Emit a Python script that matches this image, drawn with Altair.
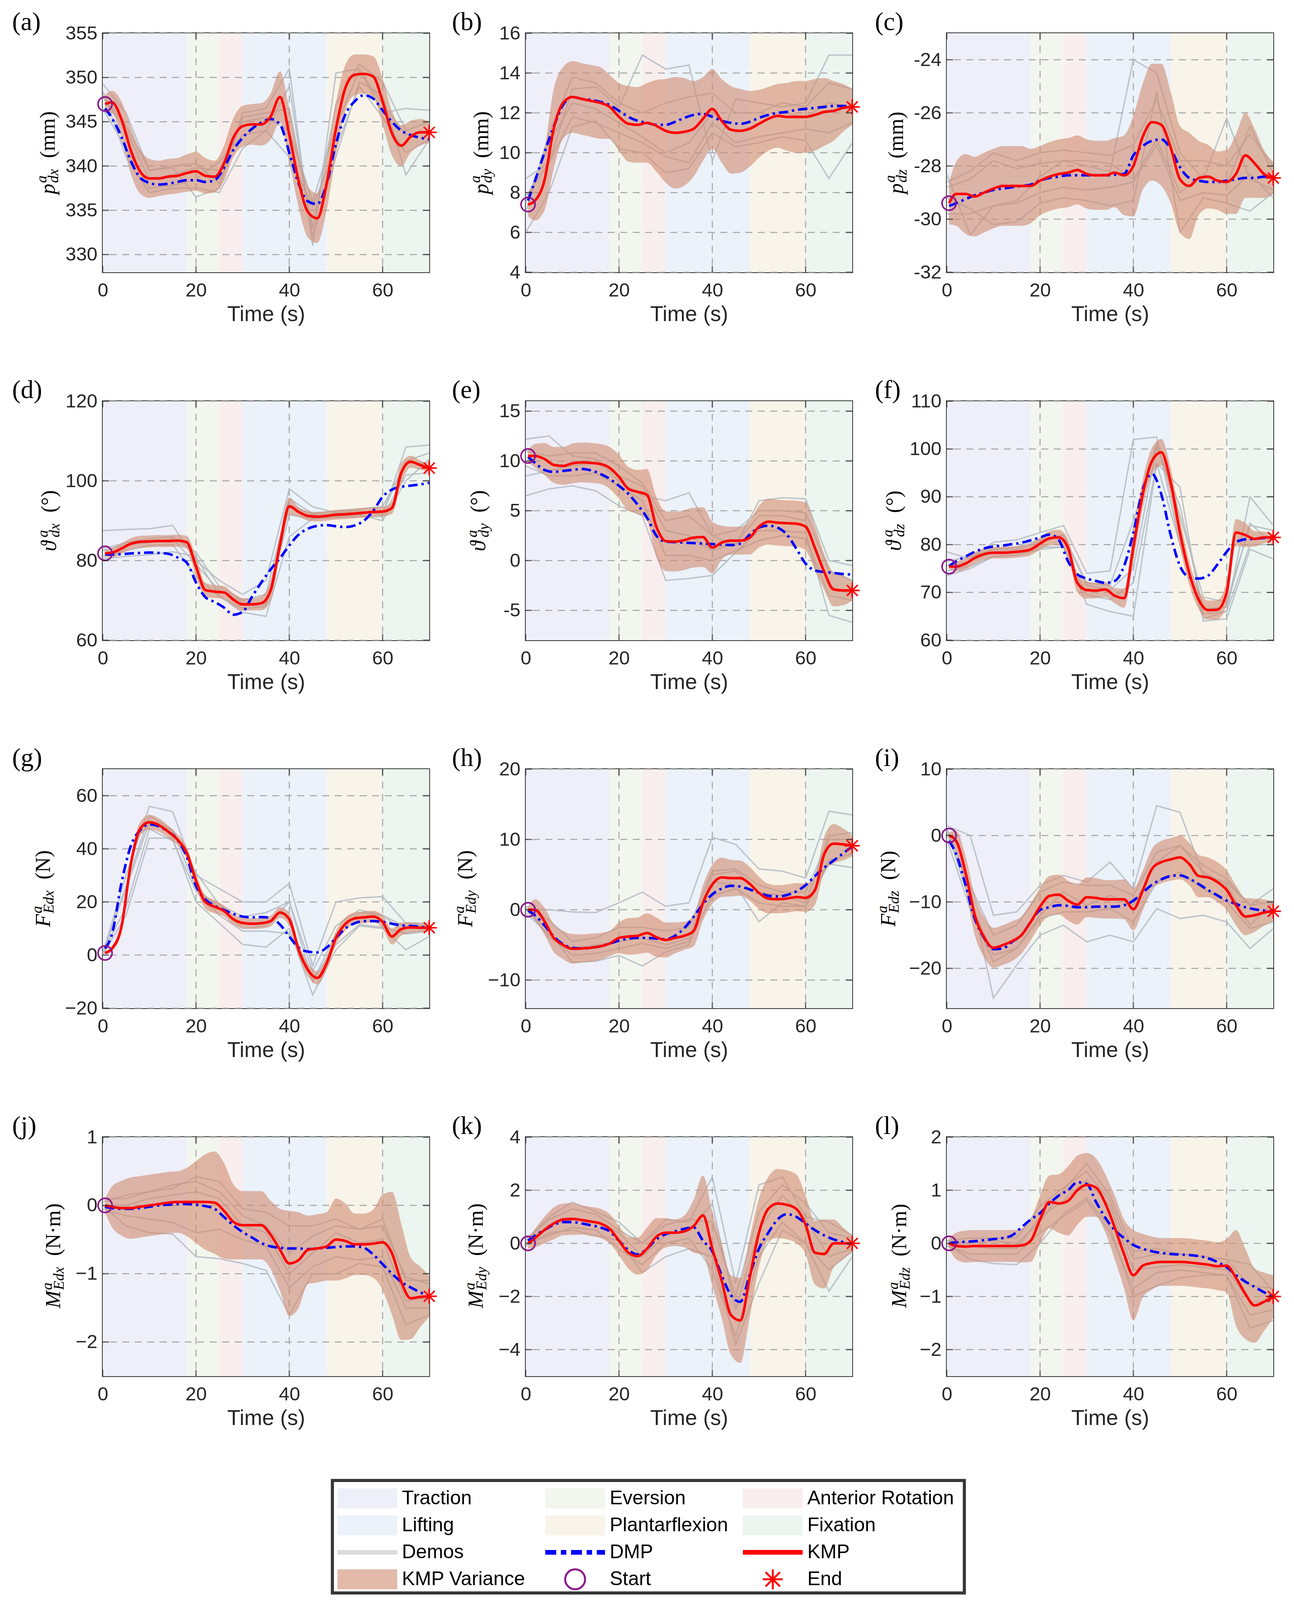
import altair as alt
import pandas as pd

# ---------------- shared axes / phases ----------------
T = [0.5, 2, 4, 6, 8, 10, 12, 14, 16, 18, 20, 22, 24, 26, 28, 30, 32, 34,
     36, 38, 40, 42, 44, 46, 48, 50, 52, 54, 56, 58, 60, 62, 64, 66, 68, 70]
TD = [0, 5, 10, 15, 20, 25, 30, 35, 40, 45, 50, 55, 60, 65, 70]
X_TICKS = [0, 20, 40, 60]
X_GRID = [20, 40, 60]

PHASES = ["Traction", "Eversion", "Anterior Rotation", "Lifting", "Plantarflexion", "Fixation"]
PH_START = [0, 18, 25, 30, 48, 60]
PH_END = [18, 25, 30, 48, 60, 70]
PH_COLORS = ["#eeeff9", "#f2f6ee", "#f9eeee", "#ebf2fa", "#f8f4ea", "#ecf5ef"]

# ---------------- (a) p_dx ----------------
KMP_A = [347.0, 347.2, 345.3, 341.8, 339.4, 338.6, 338.6, 338.8, 338.9, 339.2, 339.4, 338.9, 338.8, 340.3, 343.2, 344.5, 344.7, 344.7, 345.6, 347.8, 343.5, 338.3, 334.8, 334.1, 338.0, 344.2, 348.8, 350.3, 350.4, 350.1, 347.3, 343.7, 342.3, 343.3, 343.8, 343.8]
DMP_A = [346.5, 345.4, 343.3, 340.6, 338.7, 338.1, 337.9, 338.0, 338.2, 338.4, 338.4, 338.2, 338.4, 339.8, 341.8, 343.2, 344.2, 344.9, 345.3, 344.7, 341.5, 338.0, 336.0, 335.7, 338.0, 342.5, 345.8, 347.3, 348.0, 347.6, 346.3, 345.0, 344.0, 343.5, 343.2, 343.0]
VAR_A = [1.0, 1.3, 2.0, 2.6, 2.5, 2.2, 2.0, 2.0, 2.0, 2.1, 2.2, 2.0, 1.8, 2.0, 2.2, 2.3, 2.3, 2.4, 2.6, 2.9, 3.0, 3.0, 2.9, 2.8, 3.0, 3.0, 2.6, 2.3, 2.2, 2.3, 2.6, 2.5, 2.3, 1.8, 1.5, 1.2]
DEMO_A1 = [349.3, 346.0, 339.5, 339.8, 336.5, 337.5, 346.0, 346.5, 351.0, 331.0, 350.5, 351.0, 346.0, 346.5, 346.3]
DEMO_A2 = [348.5, 341.0, 337.0, 337.5, 337.5, 337.0, 342.0, 344.0, 349.0, 332.0, 341.0, 349.5, 348.0, 339.0, 343.0]
DEMO_A3 = [347.8, 344.0, 338.5, 339.0, 339.8, 339.5, 345.0, 345.5, 344.0, 336.0, 344.5, 350.8, 347.0, 343.5, 344.0]
DEMO_A4 = [348.0, 344.5, 339.5, 340.0, 340.3, 338.0, 345.5, 346.0, 346.5, 333.0, 347.0, 351.5, 349.5, 344.0, 345.0]
DEMO_A5 = [346.5, 342.0, 337.5, 337.8, 338.5, 340.5, 343.5, 344.0, 341.0, 335.5, 342.0, 349.0, 345.5, 341.5, 343.0]

# ---------------- (b) p_dy ----------------
KMP_B = [7.4, 7.6, 8.6, 11.2, 12.5, 12.8, 12.7, 12.6, 12.5, 12.3, 11.8, 11.45, 11.4, 11.5, 11.35, 11.1, 11.0, 11.05, 11.2, 11.7, 12.2, 11.6, 11.15, 11.1, 11.2, 11.45, 11.7, 11.85, 11.8, 11.8, 11.8, 11.9, 12.05, 12.1, 12.25, 12.3]
DMP_B = [7.6, 8.6, 10.0, 11.3, 12.4, 12.8, 12.7, 12.65, 12.55, 12.4, 12.1, 11.8, 11.6, 11.5, 11.4, 11.4, 11.55, 11.75, 11.9, 11.95, 11.8, 11.6, 11.5, 11.45, 11.55, 11.75, 11.9, 12.0, 12.05, 12.15, 12.2, 12.25, 12.3, 12.35, 12.35, 12.3]
VAR_B = [0.6, 1.0, 1.5, 2.0, 1.8, 1.8, 1.8, 1.8, 1.8, 1.6, 1.7, 1.9, 1.9, 2.0, 2.3, 2.6, 2.8, 2.7, 2.4, 2.1, 2.0, 2.1, 2.2, 2.1, 1.9, 1.7, 1.6, 1.6, 1.7, 1.8, 1.8, 1.8, 1.7, 1.5, 1.2, 0.9]
DEMO_B1 = [8.7, 9.5, 13.2, 13.3, 12.3, 14.9, 14.2, 14.4, 9.6, 12.7, 12.5, 12.3, 12.5, 14.9, 14.9]
DEMO_B2 = [6.0, 8.0, 11.3, 11.6, 10.2, 10.0, 9.0, 9.2, 11.0, 10.3, 10.5, 10.8, 10.6, 8.7, 10.5]
DEMO_B3 = [7.5, 10.5, 12.5, 12.2, 11.5, 10.8, 10.0, 10.5, 12.0, 11.0, 11.5, 12.0, 11.8, 12.5, 12.3]
DEMO_B4 = [7.0, 11.0, 13.8, 13.5, 12.5, 12.0, 12.5, 12.8, 13.0, 12.0, 12.0, 12.5, 12.3, 13.5, 13.2]
DEMO_B5 = [7.8, 9.5, 11.8, 11.5, 11.0, 10.5, 9.8, 9.5, 11.5, 10.5, 10.8, 11.0, 11.2, 11.0, 11.5]

# ---------------- (c) p_dz ----------------
KMP_C = [-29.4, -29.05, -29.05, -29.15, -29.0, -28.85, -28.75, -28.75, -28.75, -28.75, -28.55, -28.4, -28.3, -28.25, -28.15, -28.3, -28.35, -28.35, -28.25, -28.35, -28.0, -26.9, -26.35, -26.45, -27.3, -28.5, -28.75, -28.45, -28.4, -28.55, -28.6, -28.3, -27.6, -27.9, -28.3, -28.45]
DMP_C = [-29.5, -29.4, -29.25, -29.1, -29.0, -28.9, -28.85, -28.8, -28.75, -28.7, -28.55, -28.45, -28.4, -28.35, -28.35, -28.35, -28.35, -28.35, -28.33, -28.3, -27.6, -27.25, -27.05, -27.0, -27.35, -28.05, -28.45, -28.55, -28.6, -28.6, -28.55, -28.5, -28.45, -28.45, -28.4, -28.4]
VAR_C = [0.8, 1.2, 1.5, 1.5, 1.5, 1.5, 1.5, 1.5, 1.5, 1.4, 1.3, 1.3, 1.3, 1.3, 1.3, 1.3, 1.3, 1.3, 1.3, 1.5, 1.9, 2.0, 2.2, 2.3, 2.1, 2.0, 2.0, 1.4, 1.2, 1.1, 1.2, 1.5, 1.6, 1.3, 0.9, 0.6]
DEMO_C1 = [-28.3, -30.6, -29.5, -29.3, -28.4, -27.8, -28.0, -28.2, -24.0, -24.5, -27.5, -28.5, -26.2, -28.5, -28.9]
DEMO_C2 = [-29.2, -29.6, -30.2, -30.1, -29.4, -29.2, -29.3, -29.5, -29.3, -25.2, -30.5, -29.2, -29.4, -29.7, -29.0]
DEMO_C3 = [-28.8, -28.5, -27.8, -28.1, -27.9, -27.8, -27.8, -27.9, -28.5, -27.0, -29.0, -28.3, -28.7, -26.5, -28.3]
DEMO_C4 = [-28.6, -28.2, -27.5, -27.8, -27.5, -27.4, -27.5, -27.6, -27.2, -25.5, -27.8, -27.8, -28.0, -26.8, -28.0]
DEMO_C5 = [-29.8, -29.8, -29.5, -29.4, -29.0, -28.8, -28.9, -28.8, -28.6, -27.2, -29.3, -29.0, -29.1, -28.3, -29.2]

# ---------------- (d) theta_dx ----------------
KMP_D = [81.8, 82.0, 83.0, 84.2, 84.7, 84.8, 84.9, 84.9, 85.0, 84.6, 78.5, 72.6, 72.2, 72.0, 70.2, 69.0, 69.0, 69.3, 72.5, 84.0, 93.6, 92.2, 91.2, 91.0, 91.2, 91.5, 91.6, 91.8, 92.0, 92.2, 92.3, 93.2, 102.0, 104.8, 104.0, 103.2]
DMP_D = [81.6, 81.5, 81.6, 81.8, 81.9, 82.0, 81.9, 81.7, 80.8, 79.5, 74.5, 70.8, 69.6, 68.2, 66.4, 67.1, 70.9, 74.5, 77.8, 80.6, 83.8, 86.5, 88.0, 88.7, 88.9, 88.6, 88.4, 88.8, 90.0, 92.5, 96.0, 97.8, 98.5, 98.8, 99.1, 99.5]
VAR_D = [0.8, 1.2, 1.3, 1.4, 1.5, 1.5, 1.5, 1.5, 1.5, 1.6, 2.5, 1.8, 1.6, 1.6, 1.6, 1.6, 1.5, 1.8, 2.5, 2.5, 2.2, 1.2, 1.2, 1.2, 1.2, 1.2, 1.2, 1.2, 1.2, 1.2, 1.2, 1.5, 2.5, 1.5, 1.2, 0.8]
DEMO_D1 = [87.5, 87.8, 88.0, 88.8, 80.0, 75.0, 71.5, 75.0, 98.0, 93.5, 92.0, 92.5, 91.5, 108.5, 109.0]
DEMO_D2 = [80.5, 81.0, 81.5, 82.2, 81.0, 71.0, 67.0, 66.0, 86.0, 90.5, 91.0, 91.5, 90.0, 100.0, 105.5]
DEMO_D3 = [82.5, 84.0, 84.5, 85.5, 79.0, 72.5, 69.5, 69.0, 94.0, 91.5, 91.8, 92.0, 92.0, 105.0, 107.0]
DEMO_D4 = [83.0, 84.5, 85.5, 86.0, 82.0, 73.5, 70.0, 71.5, 95.5, 91.8, 92.5, 93.0, 93.5, 104.5, 104.5]
DEMO_D5 = [81.0, 82.5, 83.8, 84.0, 76.0, 71.0, 68.0, 68.5, 91.5, 90.5, 90.8, 91.0, 91.0, 101.5, 102.0]

# ---------------- (e) theta_dy ----------------
KMP_E = [10.5, 10.5, 10.2, 9.6, 9.5, 9.75, 9.85, 9.8, 9.7, 9.3, 8.4, 7.2, 6.9, 6.6, 3.4, 1.95, 1.9, 2.05, 2.3, 2.35, 1.3, 1.8, 2.0, 2.0, 2.3, 3.4, 3.9, 3.8, 3.75, 3.7, 3.4, 1.25, -1.15, -2.9, -3.0, -3.0]
DMP_E = [10.4, 9.8, 9.1, 8.9, 9.0, 9.1, 9.2, 9.05, 8.7, 8.2, 7.5, 6.7, 5.6, 4.3, 2.5, 1.9, 1.85, 1.8, 1.75, 1.7, 1.65, 1.6, 1.55, 1.7, 2.6, 3.3, 3.5, 3.3, 2.6, 1.2, -0.3, -1.0, -1.15, -1.25, -1.35, -1.4]
VAR_E = [0.6, 1.2, 1.6, 1.8, 1.9, 2.0, 2.0, 2.0, 2.0, 2.1, 2.2, 2.2, 2.2, 2.6, 3.0, 3.0, 3.0, 3.0, 3.0, 3.0, 2.6, 1.7, 1.4, 1.4, 1.7, 2.1, 2.3, 2.3, 2.3, 2.3, 2.4, 2.2, 1.8, 1.7, 1.5, 1.0]
DEMO_E1 = [12.2, 12.5, 10.5, 10.2, 8.0, 6.5, 6.0, 6.8, 2.5, 1.5, 6.0, 6.3, 6.2, 0.0, -0.5]
DEMO_E2 = [6.5, 7.2, 7.5, 7.0, 5.5, 4.5, -2.0, -1.8, -1.5, 0.8, 3.0, 3.0, 2.8, -5.5, -6.2]
DEMO_E3 = [8.5, 9.0, 9.5, 9.8, 8.5, 7.5, 3.0, 2.5, 1.0, 1.8, 4.5, 4.5, 4.0, -2.5, -3.5]
DEMO_E4 = [11.0, 10.5, 10.8, 10.8, 9.5, 7.8, 4.0, 4.5, 2.5, 3.0, 5.0, 5.0, 4.8, -1.0, -2.0]
DEMO_E5 = [9.5, 8.5, 8.5, 8.8, 7.5, 6.0, 0.5, 0.5, 0.0, 1.0, 2.0, 2.5, 2.2, -3.5, -4.0]

# ---------------- (f) theta_dz ----------------
KMP_F = [75.4, 75.4, 76.0, 77.2, 78.0, 78.3, 78.3, 78.4, 78.6, 79.0, 80.2, 81.3, 81.5, 79.3, 72.0, 70.5, 70.4, 70.6, 69.3, 68.8, 79.5, 90.5, 97.5, 99.3, 93.0, 82.5, 74.0, 68.5, 66.3, 66.4, 70.0, 82.5, 82.0, 81.2, 81.5, 81.5]
DMP_F = [75.5, 76.5, 77.5, 78.5, 79.2, 79.6, 79.8, 80.1, 80.4, 80.9, 81.5, 82.1, 81.0, 76.5, 73.8, 72.9, 72.4, 72.0, 72.4, 75.5, 82.5, 91.5, 94.8, 90.5, 82.0, 75.5, 73.2, 72.9, 73.5, 75.8, 78.5, 80.5, 81.1, 81.2, 81.4, 81.5]
VAR_F = [0.5, 1.0, 1.2, 1.2, 1.2, 1.2, 1.2, 1.2, 1.2, 1.2, 1.3, 1.5, 1.6, 1.8, 2.0, 1.8, 1.6, 1.6, 1.6, 2.0, 3.0, 3.0, 2.8, 2.8, 3.0, 3.0, 2.5, 2.0, 2.0, 2.0, 2.5, 2.8, 2.5, 1.6, 1.2, 0.8]
DEMO_F1 = [78.5, 77.0, 80.5, 81.0, 82.5, 84.0, 74.0, 74.5, 102.0, 102.5, 80.0, 64.5, 66.0, 90.0, 84.0]
DEMO_F2 = [73.5, 75.0, 77.5, 77.8, 79.0, 79.5, 67.5, 66.0, 65.0, 97.0, 92.0, 64.0, 64.5, 79.0, 77.0]
DEMO_F3 = [75.5, 76.5, 78.5, 79.0, 80.5, 82.0, 71.5, 70.5, 75.0, 100.5, 88.0, 66.5, 67.0, 84.5, 80.0]
DEMO_F4 = [76.5, 77.5, 79.0, 79.5, 81.0, 82.0, 72.0, 71.5, 85.0, 101.0, 86.0, 69.0, 68.0, 84.0, 83.0]
DEMO_F5 = [74.5, 75.5, 77.5, 77.8, 79.5, 79.5, 69.5, 68.5, 72.0, 97.0, 80.0, 65.5, 66.0, 80.0, 80.0]

# ---------------- (g) F_Edx ----------------
KMP_G = [0.8, 2.5, 10.5, 34.0, 47.5, 50.0, 49.0, 46.5, 43.5, 38.5, 28.0, 20.0, 18.2, 16.6, 13.5, 12.1, 11.8, 12.0, 12.8, 16.0, 13.5, 2.0, -5.6, -8.6, -3.1, 6.5, 11.7, 13.8, 14.2, 14.5, 12.5, 7.0, 9.8, 10.4, 10.3, 10.3]
DMP_G = [2.5, 8.0, 27.0, 41.0, 47.0, 49.2, 48.5, 46.5, 43.5, 37.0, 26.0, 21.0, 18.5, 17.0, 15.5, 14.5, 14.2, 14.3, 14.0, 11.5, 7.0, 2.8, 1.3, 1.0, 2.8, 6.5, 10.0, 12.0, 12.8, 12.8, 12.5, 11.8, 11.2, 11.0, 10.7, 10.3]
VAR_G = [0.5, 1.0, 2.0, 2.5, 2.5, 2.8, 2.5, 2.3, 2.0, 2.2, 2.5, 2.5, 2.5, 2.0, 2.0, 2.0, 2.0, 2.0, 2.0, 2.0, 2.5, 2.5, 2.5, 2.5, 2.5, 2.5, 2.5, 2.2, 2.2, 2.2, 2.5, 3.0, 2.5, 2.0, 1.6, 1.2]
DEMO_G1 = [0.5, 30.0, 56.0, 54.0, 30.0, 25.0, 20.0, 20.0, 27.0, -4.0, 20.0, 21.5, 22.0, 12.0, 12.0]
DEMO_G2 = [0.0, 15.0, 44.0, 44.0, 20.0, 12.0, 4.0, 3.0, 10.0, -15.0, 2.0, 11.0, 10.0, 2.0, 7.0]
DEMO_G3 = [1.0, 25.0, 50.0, 47.0, 25.0, 18.0, 10.0, 11.0, 20.0, -10.0, 8.0, 16.0, 15.0, 8.0, 9.0]
DEMO_G4 = [0.5, 26.0, 52.5, 47.0, 31.0, 19.0, 14.5, 16.0, 20.0, -6.0, 11.0, 17.0, 15.0, 10.5, 11.0]
DEMO_G5 = [1.0, 18.0, 47.5, 43.0, 24.0, 15.0, 9.0, 9.0, 8.0, -9.5, 4.0, 11.5, 10.5, 8.0, 9.5]

# ---------------- (h) F_Edy ----------------
KMP_H = [0.0, 0.0, -1.6, -4.0, -5.0, -5.55, -5.5, -5.4, -5.2, -4.8, -4.0, -3.8, -3.7, -3.3, -3.9, -4.3, -4.0, -3.7, -3.0, 1.0, 3.6, 4.6, 4.5, 4.5, 3.7, 2.4, 1.6, 1.5, 1.6, 1.8, 1.7, 2.8, 7.9, 9.4, 9.3, 9.1]
DMP_H = [-0.1, -0.8, -2.2, -3.8, -4.9, -5.4, -5.5, -5.4, -5.2, -4.8, -4.4, -4.1, -4.0, -4.0, -4.1, -4.2, -3.7, -2.6, -1.0, 0.8, 2.2, 3.0, 3.4, 3.3, 2.9, 2.4, 2.0, 1.9, 2.1, 2.6, 3.5, 4.8, 6.0, 7.0, 8.0, 9.0]
VAR_H = [0.5, 1.5, 1.9, 2.0, 2.0, 2.1, 2.0, 2.0, 1.9, 1.8, 2.2, 2.6, 2.6, 2.8, 2.8, 2.5, 2.2, 2.0, 2.2, 2.5, 2.8, 2.8, 2.6, 2.5, 2.4, 2.3, 2.1, 2.0, 2.0, 2.0, 2.0, 2.1, 2.5, 2.8, 2.3, 1.5]
DEMO_H1 = [0.0, 0.0, -0.3, -0.4, 1.0, 2.5, 0.5, 1.0, 10.3, 9.3, 5.8, 5.5, 4.5, 14.0, 13.5]
DEMO_H2 = [0.0, -3.0, -7.5, -7.3, -6.5, -8.0, -6.0, -5.0, 4.0, 3.5, -1.7, 1.0, 0.5, 6.5, 6.0]
DEMO_H3 = [0.3, -4.0, -5.5, -5.0, -4.5, -4.0, -5.0, -4.0, 5.0, 5.5, 2.5, 2.0, 1.0, 10.5, 11.0]
DEMO_H4 = [0.5, -1.5, -4.5, -4.0, -2.5, -2.5, -3.0, -2.5, 5.5, 5.8, 3.5, 2.5, 2.5, 10.0, 10.0]
DEMO_H5 = [-0.5, -3.5, -6.5, -6.2, -5.5, -4.8, -5.5, -4.5, 2.0, 3.0, 1.0, 0.5, 0.5, 7.0, 8.0]

# ---------------- (i) F_Edz ----------------
KMP_I = [0.0, -0.8, -5.5, -12.0, -15.3, -16.9, -16.5, -15.9, -15.0, -13.0, -10.7, -9.1, -8.9, -9.8, -10.4, -9.3, -9.4, -9.6, -9.6, -9.6, -11.1, -8.3, -5.0, -4.0, -3.6, -3.3, -4.3, -6.1, -6.3, -7.0, -8.2, -10.5, -12.2, -12.0, -11.6, -11.4]
DMP_I = [-0.8, -2.8, -7.4, -12.5, -15.4, -17.1, -17.0, -16.0, -15.0, -13.0, -11.2, -10.8, -10.5, -10.6, -10.8, -10.8, -10.7, -10.7, -10.7, -10.5, -9.8, -8.6, -7.4, -6.6, -6.1, -6.0, -6.5, -7.3, -8.2, -9.0, -9.8, -10.3, -10.8, -11.1, -11.3, -11.4]
VAR_I = [0.5, 1.5, 2.5, 3.0, 3.0, 3.0, 3.0, 3.0, 2.8, 2.8, 2.8, 3.0, 3.0, 3.0, 3.0, 3.0, 3.0, 2.9, 2.9, 3.0, 3.2, 3.0, 3.0, 3.2, 3.2, 3.3, 3.2, 3.2, 3.0, 3.0, 3.0, 3.0, 2.8, 2.5, 2.0, 1.5]
DEMO_I1 = [1.5, 0.0, -12.0, -11.5, -7.5, -6.0, -7.0, -4.0, -8.0, 4.5, 3.5, -6.0, -7.0, -10.5, -8.0]
DEMO_I2 = [0.5, -8.0, -24.5, -19.5, -15.0, -13.5, -16.0, -15.0, -16.0, -11.0, -12.5, -12.0, -13.0, -17.0, -14.0]
DEMO_I3 = [0.8, -10.0, -18.0, -17.0, -12.0, -8.5, -10.5, -9.0, -10.5, -4.0, -1.5, -5.5, -7.5, -13.5, -10.0]
DEMO_I4 = [1.0, -7.5, -15.0, -13.5, -8.5, -7.0, -7.5, -7.5, -9.0, -2.5, -1.5, -4.5, -6.5, -10.5, -10.0]
DEMO_I5 = [-0.5, -11.0, -19.0, -17.0, -12.5, -11.5, -11.5, -11.0, -13.0, -7.0, -5.5, -8.0, -10.0, -14.0, -13.0]

# ---------------- (j) M_Edx ----------------
KMP_J = [0.0, -0.02, -0.04, -0.04, -0.02, 0.0, 0.02, 0.04, 0.05, 0.05, 0.05, 0.05, 0.04, -0.08, -0.24, -0.29, -0.29, -0.29, -0.43, -0.65, -0.85, -0.8, -0.65, -0.63, -0.6, -0.5, -0.52, -0.57, -0.57, -0.56, -0.54, -0.7, -1.12, -1.36, -1.34, -1.33]
DMP_J = [-0.02, -0.04, -0.05, -0.05, -0.04, -0.02, 0.0, 0.01, 0.02, 0.02, 0.01, -0.01, -0.05, -0.17, -0.29, -0.39, -0.47, -0.55, -0.6, -0.62, -0.63, -0.63, -0.64, -0.63, -0.62, -0.61, -0.6, -0.6, -0.62, -0.72, -0.86, -1.0, -1.12, -1.2, -1.27, -1.33]
VAR_J = [0.1, 0.3, 0.4, 0.45, 0.45, 0.45, 0.45, 0.45, 0.45, 0.5, 0.6, 0.7, 0.75, 0.7, 0.55, 0.5, 0.5, 0.5, 0.5, 0.6, 0.77, 0.7, 0.5, 0.5, 0.5, 0.6, 0.55, 0.45, 0.45, 0.5, 0.7, 0.9, 0.85, 0.6, 0.45, 0.3]
DEMO_J1 = [0.05, 0.15, 0.2, 0.25, 0.42, 0.35, -0.05, -0.1, -0.3, -0.3, -0.2, -0.35, -0.2, -1.1, -1.1]
DEMO_J2 = [0.0, -0.3, -0.4, -0.42, -0.75, -0.78, -0.85, -0.95, -1.6, -1.0, -1.0, -0.85, -0.9, -1.75, -1.6]
DEMO_J3 = [0.0, 0.0, 0.1, 0.15, 0.2, 0.1, -0.3, -0.4, -1.0, -0.7, -0.4, -0.55, -0.5, -1.4, -1.35]
DEMO_J4 = [0.1, 0.1, 0.2, 0.3, 0.35, 0.2, -0.15, -0.3, -0.7, -0.45, -0.3, -0.35, -0.3, -1.05, -1.15]
DEMO_J5 = [-0.05, -0.15, -0.2, -0.25, -0.4, -0.35, -0.5, -0.6, -1.2, -0.9, -0.75, -0.8, -0.75, -1.5, -1.5]

# ---------------- (k) M_Edy ----------------
KMP_K = [0.0, 0.2, 0.5, 0.75, 0.9, 0.92, 0.88, 0.82, 0.75, 0.55, 0.1, -0.35, -0.48, -0.2, 0.25, 0.4, 0.4, 0.45, 0.65, 1.05, -0.2, -1.4, -2.7, -2.9, -1.3, 0.4, 1.3, 1.5, 1.45, 1.3, 0.7, -0.35, -0.4, 0.0, 0.0, 0.0]
DMP_K = [0.1, 0.3, 0.5, 0.7, 0.8, 0.8, 0.75, 0.68, 0.6, 0.45, 0.1, -0.25, -0.42, -0.2, 0.15, 0.35, 0.45, 0.55, 0.6, 0.1, -0.3, -1.2, -1.95, -2.2, -1.2, -0.2, 0.4, 0.9, 1.1, 1.0, 0.75, 0.5, 0.3, 0.15, 0.05, -0.05]
VAR_K = [0.2, 0.35, 0.5, 0.6, 0.6, 0.6, 0.55, 0.55, 0.55, 0.55, 0.55, 0.6, 0.7, 0.8, 0.7, 0.55, 0.5, 0.6, 1.0, 1.5, 1.4, 1.4, 1.5, 1.6, 1.5, 1.3, 1.2, 1.3, 1.3, 1.3, 1.1, 1.2, 1.3, 0.9, 0.6, 0.3]
DEMO_K1 = [0.1, 1.0, 1.55, 1.2, 0.8, 0.0, 0.9, 0.8, 2.5, -1.5, 2.2, 2.5, 1.0, 0.8, 0.3]
DEMO_K2 = [-0.1, 0.4, 0.5, 0.3, 0.1, -1.1, -0.5, -0.2, -0.5, -3.8, -1.5, 0.5, 0.0, -1.8, -0.5]
DEMO_K3 = [0.0, 0.7, 0.9, 0.8, 0.4, -0.5, 0.3, 0.5, 1.5, -2.5, 0.5, 1.8, 0.9, -0.5, -0.2]
DEMO_K4 = [0.15, 0.9, 1.3, 1.1, 0.5, 0.0, 0.7, 0.9, 0.8, -2.0, 1.2, 2.2, 1.5, 0.4, 0.2]
DEMO_K5 = [-0.05, 0.3, 0.6, 0.5, -0.2, -0.8, 0.0, 0.2, -1.0, -3.5, -0.5, 0.8, 0.0, -1.0, -0.3]

# ---------------- (l) M_Edz ----------------
KMP_L = [0.0, -0.05, -0.06, -0.05, -0.05, -0.05, -0.05, -0.05, -0.04, 0.05, 0.45, 0.78, 0.75, 0.8, 1.0, 1.1, 1.05, 0.75, 0.3, -0.2, -0.6, -0.42, -0.37, -0.35, -0.35, -0.35, -0.36, -0.38, -0.4, -0.43, -0.42, -0.65, -0.95, -1.17, -1.1, -1.0]
DMP_L = [0.0, 0.02, 0.03, 0.04, 0.06, 0.08, 0.1, 0.15, 0.3, 0.45, 0.57, 0.75, 0.9, 1.0, 1.15, 1.12, 0.78, 0.48, 0.25, 0.1, -0.03, -0.1, -0.15, -0.18, -0.2, -0.21, -0.22, -0.24, -0.28, -0.35, -0.45, -0.6, -0.72, -0.82, -0.92, -1.0]
VAR_L = [0.1, 0.25, 0.3, 0.3, 0.3, 0.3, 0.3, 0.3, 0.32, 0.4, 0.45, 0.5, 0.55, 0.65, 0.65, 0.6, 0.55, 0.55, 0.6, 0.65, 0.85, 0.6, 0.5, 0.45, 0.45, 0.45, 0.45, 0.45, 0.45, 0.45, 0.5, 0.9, 0.85, 0.7, 0.55, 0.4]
DEMO_L1 = [0.05, 0.0, 0.05, 0.0, 0.4, 1.0, 1.5, 0.9, -0.15, -0.1, -0.2, -0.25, -0.3, -0.4, -0.9]
DEMO_L2 = [0.0, -0.3, -0.38, -0.4, 0.0, 0.55, 0.85, 0.3, -1.0, -0.8, -0.65, -0.6, -0.6, -1.6, -1.45]
DEMO_L3 = [0.0, -0.05, -0.1, -0.1, 0.5, 0.8, 1.2, 0.7, -0.5, -0.45, -0.4, -0.45, -0.5, -1.1, -1.1]
DEMO_L4 = [0.05, 0.1, 0.1, 0.1, 0.7, 1.05, 1.35, 0.8, -0.3, -0.2, -0.2, -0.25, -0.3, -0.8, -0.85]
DEMO_L5 = [-0.05, -0.2, -0.2, -0.2, 0.2, 0.5, 0.8, 0.2, -0.85, -0.55, -0.5, -0.55, -0.6, -1.35, -1.25]

# ---------------- panel meta ----------------
PANELS = [
    dict(tag="(a)", k=KMP_A, d=DMP_A, w=VAR_A, demos=[DEMO_A1, DEMO_A2, DEMO_A3, DEMO_A4, DEMO_A5], dom=[328, 355], ticks=[330, 335, 340, 345, 350, 355], hy=False, sym=("p", "a", "dx", "(mm)"), toff=-139),
    dict(tag="(b)", k=KMP_B, d=DMP_B, w=VAR_B, demos=[DEMO_B1, DEMO_B2, DEMO_B3, DEMO_B4, DEMO_B5], dom=[4, 16], ticks=[4, 6, 8, 10, 12, 14, 16], hy=True, sym=("p", "a", "dy", "(mm)"), toff=-112),
    dict(tag="(c)", k=KMP_C, d=DMP_C, w=VAR_C, demos=[DEMO_C1, DEMO_C2, DEMO_C3, DEMO_C4, DEMO_C5], dom=[-32, -23], ticks=[-32, -30, -28, -26, -24], hy=True, sym=("p", "a", "dz", "(mm)"), toff=-128),
    dict(tag="(d)", k=KMP_D, d=DMP_D, w=VAR_D, demos=[DEMO_D1, DEMO_D2, DEMO_D3, DEMO_D4, DEMO_D5], dom=[60, 120], ticks=[60, 80, 100, 120], hy=False, sym=("\u03d1", "a", "dx", "(\u00b0)"), toff=-136),
    dict(tag="(e)", k=KMP_E, d=DMP_E, w=VAR_E, demos=[DEMO_E1, DEMO_E2, DEMO_E3, DEMO_E4, DEMO_E5], dom=[-8, 16], ticks=[-5, 0, 5, 10, 15], hy=True, sym=("\u03d1", "a", "dy", "(\u00b0)"), toff=-120),
    dict(tag="(f)", k=KMP_F, d=DMP_F, w=VAR_F, demos=[DEMO_F1, DEMO_F2, DEMO_F3, DEMO_F4, DEMO_F5], dom=[60, 110], ticks=[60, 70, 80, 90, 100, 110], hy=False, sym=("\u03d1", "a", "dz", "(\u00b0)"), toff=-134),
    dict(tag="(g)", k=KMP_G, d=DMP_G, w=VAR_G, demos=[DEMO_G1, DEMO_G2, DEMO_G3, DEMO_G4, DEMO_G5], dom=[-20, 70], ticks=[-20, 0, 20, 40, 60], hy=False, sym=("F", "a", "Edx", "(N)"), toff=-151),
    dict(tag="(h)", k=KMP_H, d=DMP_H, w=VAR_H, demos=[DEMO_H1, DEMO_H2, DEMO_H3, DEMO_H4, DEMO_H5], dom=[-14, 20], ticks=[-10, 0, 10, 20], hy=False, sym=("F", "a", "Edy", "(N)"), toff=-153),
    dict(tag="(i)", k=KMP_I, d=DMP_I, w=VAR_I, demos=[DEMO_I1, DEMO_I2, DEMO_I3, DEMO_I4, DEMO_I5], dom=[-26, 10], ticks=[-20, -10, 0, 10], hy=False, sym=("F", "a", "Edz", "(N)"), toff=-148),
    dict(tag="(j)", k=KMP_J, d=DMP_J, w=VAR_J, demos=[DEMO_J1, DEMO_J2, DEMO_J3, DEMO_J4, DEMO_J5], dom=[-2.5, 1], ticks=[-2, -1, 0, 1], hy=False, sym=("M", "a", "Edx", "(N\u00b7m)"), toff=-125),
    dict(tag="(k)", k=KMP_K, d=DMP_K, w=VAR_K, demos=[DEMO_K1, DEMO_K2, DEMO_K3, DEMO_K4, DEMO_K5], dom=[-5, 4], ticks=[-4, -2, 0, 2, 4], hy=False, sym=("M", "a", "Edy", "(N\u00b7m)"), toff=-126),
    dict(tag="(l)", k=KMP_L, d=DMP_L, w=VAR_L, demos=[DEMO_L1, DEMO_L2, DEMO_L3, DEMO_L4, DEMO_L5], dom=[-2.5, 2], ticks=[-2, -1, 0, 1, 2], hy=False, sym=("M", "a", "Edz", "(N\u00b7m)"), toff=-120),
]
LABEL_X = [-232, -189, -184]

# ---------------- style ----------------
W_PLOT, H_PLOT = 836, 612
SANS = "Liberation Sans, Arial, Helvetica, sans-serif"
SERIF = "Liberation Serif, DejaVu Serif, Times New Roman, serif"
TXT = "#262626"
GRID = "#a3a3a3"
DEMO_C = "#b3bbc3"
BAND = "#d08a70"
BAND_OP = 0.6
RED = "#ff0000"
BLUE = "#0000ff"
PURPLE = "#8a148a"
STAR = "M0,-1L0,1M-1,0L1,0M-0.72,-0.72L0.72,0.72M-0.72,0.72L0.72,-0.72"
ONE = pd.DataFrame({"k": [0]})
TICK_LEN = 16

IT_EM = {"p": 0.5, "a": 0.5, "d": 0.5, "x": 0.444, "y": 0.444, "z": 0.389,
         "E": 0.611, "F": 0.611, "M": 0.833, "\u03d1": 0.62}
UP_EM = {"(": 0.333, ")": 0.333, "m": 0.778, "N": 0.722, "\u00b0": 0.4, "\u00b7": 0.25}


def em(s, tab):
    return sum(tab.get(c, 0.5) for c in s)


def text_layer(txt, x, y, size, italic=False, angle=0, align="left", baseline="middle"):
    kw = dict(font=SERIF, fontSize=size, align=align, baseline=baseline, color="black")
    if italic:
        kw["fontStyle"] = "italic"
    if angle:
        kw["angle"] = angle
    return alt.Chart(ONE).mark_text(**kw).encode(
        x=alt.value(x), y=alt.value(y), text=alt.value(txt))


def make_panel(idx, p):
    K, D, Wv = p["k"], p["d"], p["w"]
    main = pd.DataFrame({"t": T, "kmp": K, "dmp": D,
                         "lo": [a - b for a, b in zip(K, Wv)],
                         "hi": [a + b for a, b in zip(K, Wv)]})
    nd = len(p["demos"])
    demo = pd.DataFrame({"t": TD * nd,
                         "v": [v for dm in p["demos"] for v in dm],
                         "demo": [i for i in range(nd) for _ in TD]})
    phase = pd.DataFrame({"name": PHASES, "s": PH_START, "e": PH_END})
    yt = pd.DataFrame({"v": p["ticks"]})
    xt = pd.DataFrame({"v": X_TICKS})

    xs = alt.Scale(domain=[0, 70], nice=False, zero=False)
    ys = alt.Scale(domain=p["dom"], nice=False, zero=False)
    common = dict(grid=False, ticks=False, domain=False, labelFlush=False,
                  labelFontSize=49, labelColor=TXT, labelFont=SANS)
    xaxis = alt.Axis(values=X_TICKS, title="Time (s)", labelPadding=22, titlePadding=10,
                     titleFontSize=55, titleFont=SANS, titleColor=TXT,
                     titleFontWeight="normal", **common)
    yargs = dict(values=p["ticks"], title="", labelPadding=14, **common)
    if p["hy"]:
        yargs["labelExpr"] = "replace(datum.label, '\u2212', '-')"
    yaxis = alt.Axis(**yargs)

    def X(f):
        return alt.X(f, scale=xs, axis=xaxis)

    def Y(f):
        return alt.Y(f, scale=ys, axis=yaxis)

    layers = []
    layers.append(alt.Chart(phase).mark_rect().encode(
        x=X("s:Q"), x2="e:Q",
        color=alt.Color("name:N", scale=alt.Scale(domain=PHASES, range=PH_COLORS), legend=None)))
    layers.append(alt.Chart(yt).mark_rule(
        color=GRID, strokeWidth=2.5, strokeDash=[18, 14]).encode(y=Y("v:Q")))
    layers.append(alt.Chart(pd.DataFrame({"v": X_GRID})).mark_rule(
        color=GRID, strokeWidth=2.5, strokeDash=[18, 14]).encode(x=X("v:Q")))
    layers.append(alt.Chart(demo).mark_line(color=DEMO_C, strokeWidth=3.5, opacity=0.85).encode(
        x=X("t:Q"), y=Y("v:Q"), detail="demo:N"))
    layers.append(alt.Chart(main).mark_area(color=BAND, opacity=BAND_OP, interpolate="monotone").encode(
        x=X("t:Q"), y=Y("lo:Q"), y2="hi:Q"))
    layers.append(alt.Chart(main).mark_line(color=BLUE, strokeWidth=6.5, strokeDash=[24, 10, 6, 10],
                                            interpolate="monotone").encode(x=X("t:Q"), y=Y("dmp:Q")))
    layers.append(alt.Chart(main).mark_line(color=RED, strokeWidth=6.5, interpolate="monotone").encode(
        x=X("t:Q"), y=Y("kmp:Q")))
    layers.append(alt.Chart(main.iloc[[0]]).mark_point(shape="circle", filled=False, color=PURPLE,
                                                       size=1300, strokeWidth=4, opacity=1).encode(
        x=X("t:Q"), y=Y("kmp:Q")))
    layers.append(alt.Chart(main.iloc[[-1]]).mark_point(shape=STAR, filled=False, color=RED,
                                                        size=1500, strokeWidth=4, opacity=1).encode(
        x=X("t:Q"), y=Y("kmp:Q")))

    # inward box ticks (left/right at y ticks, top/bottom at x ticks)
    for xv in (TICK_LEN / 2, W_PLOT - TICK_LEN / 2):
        layers.append(alt.Chart(yt).mark_tick(color="#262626", thickness=3, size=TICK_LEN,
                                              orient="horizontal").encode(
            y=Y("v:Q"), x=alt.value(xv)))
    for yv in (TICK_LEN / 2, H_PLOT - TICK_LEN / 2):
        layers.append(alt.Chart(xt).mark_tick(color="#262626", thickness=3, size=TICK_LEN,
                                              orient="vertical").encode(
            x=X("v:Q"), y=alt.value(yv)))

    # panel tag
    layers.append(text_layer(p["tag"], LABEL_X[idx % 3], -8, 66, baseline="alphabetic"))

    # composite y title  (rotated, reading upwards)
    mainc, sup, sub, unit = p["sym"]
    S, s, U = 54, 38, 54
    w_main = em(mainc, IT_EM) * S
    w_scr = max(em(sup, IT_EM), em(sub, IT_EM)) * s
    gap = 0.55 * U
    w_unit = em(unit, UP_EM) * U
    total = w_main + w_scr + gap + w_unit
    x0 = p["toff"]
    bottom = H_PLOT / 2 + total / 2
    layers.append(text_layer(mainc, x0, bottom, S, italic=True, angle=270))
    layers.append(text_layer(sup, x0 - 0.3 * S, bottom - w_main - 2, s, italic=True, angle=270))
    layers.append(text_layer(sub, x0 + 0.25 * S, bottom - w_main - 2, s, italic=True, angle=270))
    layers.append(text_layer(unit, x0, bottom - w_main - w_scr - gap, U, angle=270))

    return alt.layer(*layers).properties(
        width=W_PLOT, height=H_PLOT,
        view=alt.ViewBackground(stroke="#333333", strokeWidth=4))


panels = [make_panel(i, p) for i, p in enumerate(PANELS)]
rows = [alt.hconcat(*panels[r * 3:(r + 1) * 3], spacing=26) for r in range(4)]
grid = alt.vconcat(*rows, spacing=130)

# ---------------- legend ----------------
LEG_LABELS = ["Traction", "Eversion", "Anterior Rotation",
              "Lifting", "Plantarflexion", "Fixation",
              "Demos", "DMP", "KMP",
              "KMP Variance", "Start", "End"]
SW_X = [601, 1133, 1639]
SW_W = 153
TX_GAP = 165
ROW_Y = [52, 121, 190, 259]
SW_H = 51

txt_df = pd.DataFrame({
    "label": LEG_LABELS,
    "x": [SW_X[i % 3] + TX_GAP for i in range(12)],
    "y": [ROW_Y[i // 3] for i in range(12)],
})
sw_idx = [0, 1, 2, 3, 4, 5, 9]
sw_df = pd.DataFrame({
    "x1": [SW_X[i % 3] for i in sw_idx],
    "x2": [SW_X[i % 3] + SW_W for i in sw_idx],
    "y1": [ROW_Y[i // 3] - SW_H / 2 for i in sw_idx],
    "y2": [ROW_Y[i // 3] + SW_H / 2 for i in sw_idx],
    "color": PH_COLORS + [BAND],
    "op": [1, 1, 1, 1, 1, 1, BAND_OP],
})


def leg_line(col, color, width, dash=None):
    df = pd.DataFrame({"x1": [SW_X[col]], "x2": [SW_X[col] + SW_W], "y": [ROW_Y[2]]})
    kw = dict(color=color, strokeWidth=width)
    if dash:
        kw["strokeDash"] = dash
    return alt.Chart(df).mark_rule(**kw).encode(
        x=alt.X("x1:Q", scale=None, axis=None), x2="x2:Q",
        y=alt.Y("y:Q", scale=None, axis=None))


def leg_marker(col, shape, color):
    df = pd.DataFrame({"x": [SW_X[col] + SW_W / 2], "y": [ROW_Y[3]]})
    return alt.Chart(df).mark_point(shape=shape, filled=False, color=color, size=2600,
                                    strokeWidth=5, opacity=1).encode(
        x=alt.X("x:Q", scale=None, axis=None), y=alt.Y("y:Q", scale=None, axis=None))


legend = alt.layer(
    alt.Chart(ONE).mark_rect(fill="white", stroke="#383838", strokeWidth=8).encode(
        x=alt.value(588), x2=alt.value(2206), y=alt.value(6), y2=alt.value(294)),
    alt.Chart(sw_df).mark_rect().encode(
        x=alt.X("x1:Q", scale=None, axis=None), x2="x2:Q",
        y=alt.Y("y1:Q", scale=None, axis=None), y2="y2:Q",
        color=alt.Color("color:N", scale=None),
        opacity=alt.Opacity("op:Q", scale=None)),
    leg_line(0, "#dcdcdc", 12),
    leg_line(1, BLUE, 12, [28, 12, 14, 12]),
    leg_line(2, RED, 12),
    leg_marker(1, "circle", PURPLE),
    leg_marker(2, STAR, RED),
    alt.Chart(txt_df).mark_text(font=SANS, fontSize=50, align="left", baseline="middle",
                                color="black").encode(
        x=alt.X("x:Q", scale=None, axis=None), y=alt.Y("y:Q", scale=None, axis=None),
        text="label:N"),
).properties(width=2300, height=300, view=alt.ViewBackground(strokeOpacity=0))

chart = alt.vconcat(grid, legend, spacing=124).properties(
    padding={"left": 21, "top": 14, "right": 5, "bottom": 5},
    background="white",
)

chart.save("out.html", embed_options={"renderer": "svg", "actions": False})
